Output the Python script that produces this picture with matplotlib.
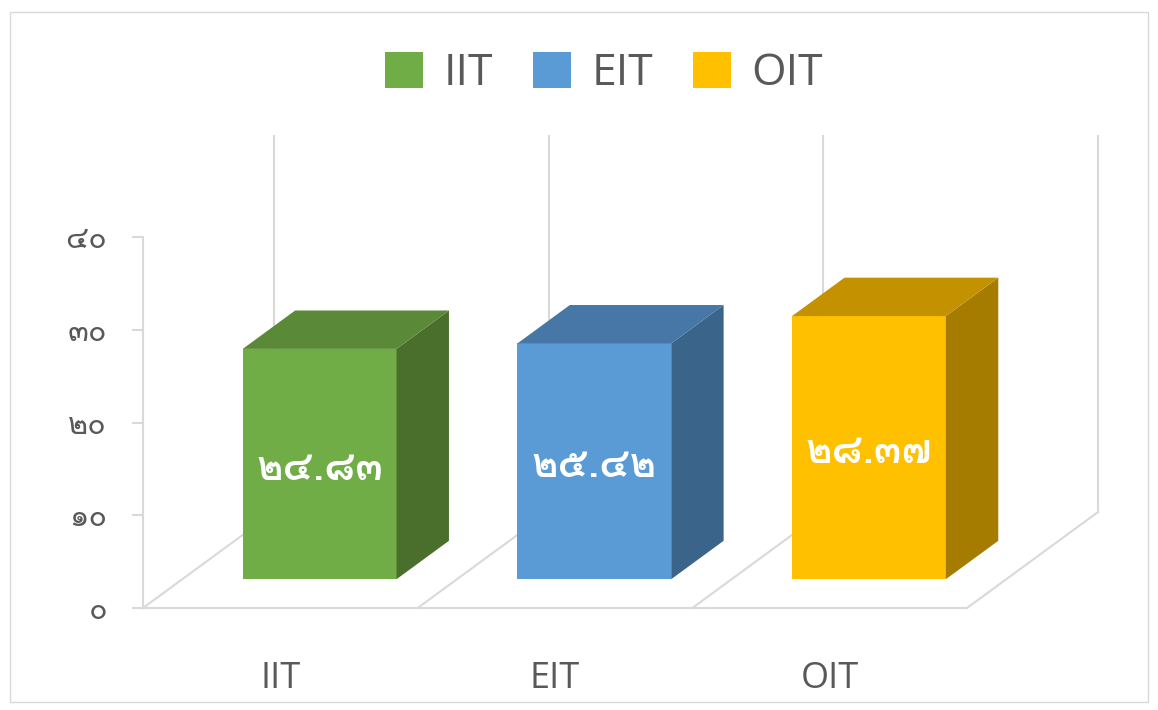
import matplotlib
matplotlib.use('Agg')
import matplotlib.pyplot as plt
from matplotlib import font_manager
from matplotlib.ft2font import FT2Font
from matplotlib.patches import Patch, Polygon, Rectangle

# data
categories = ['IIT', 'EIT', 'OIT']
values = [24.83, 25.42, 28.37]
yticks = [0, 10, 20, 30, 40]

front_colors = ['#70AD47', '#5B9BD5', '#FFC000']
top_colors = ['#5A8A38', '#4677A6', '#C49200']
side_colors = ['#4A6F2C', '#3A6489', '#A67C00']
grid_color = '#D9D9D9'
text_color = '#595959'


def find_thai_font():
    # first installed font that has thai digits
    for f in font_manager.fontManager.ttflist:
        try:
            if 0x0E52 in FT2Font(f.fname).get_charmap():
                return f.name
        except Exception:
            pass
    return 'DejaVu Sans'


def thai_digits(s):
    return s.translate(str.maketrans('0123456789', '๐๑๒๓๔๕๖๗๘๙'))


thai_font = find_thai_font()
plt.rcParams['font.family'] = ['Open Sans', thai_font, 'DejaVu Sans']

fig = plt.figure(figsize=(11.58, 7.10), dpi=100)
ax = fig.add_axes([143 / 1158, 102 / 710, 824 / 1158, 371 / 710])
ax.set_xlim(0, 3)
ax.set_ylim(0, 40)

# oblique depth of the floor (data units)
ddx, ddy = 0.477, 10.35
wall_top = ddy + 40.5

# floor and back wall lines
for i in range(4):
    ax.plot([i, i + ddx], [0, ddy], color=grid_color, lw=1.5, zorder=1, clip_on=False)
    ax.plot([i + ddx, i + ddx], [ddy, wall_top], color=grid_color, lw=1.5, zorder=1, clip_on=False)

# 3d bars
width = 0.56
d0, d1 = 0.3, 0.7
bdx, bdy = (d1 - d0) * ddx, (d1 - d0) * ddy
base = d0 * ddy
xs = [i + 0.5 + d0 * ddx for i in range(len(values))]
ax.bar(xs, values, width=width, bottom=base, color=front_colors, zorder=3, clip_on=False)
for x, v, tc, sc in zip(xs, values, top_colors, side_colors):
    xl, xr = x - width / 2, x + width / 2
    top = base + v
    ax.add_patch(Polygon([(xr, base), (xr + bdx, base + bdy), (xr + bdx, top + bdy), (xr, top)],
                         closed=True, facecolor=sc, edgecolor='none', zorder=3, clip_on=False))
    ax.add_patch(Polygon([(xl, top), (xl + bdx, top + bdy), (xr + bdx, top + bdy), (xr, top)],
                         closed=True, facecolor=tc, edgecolor='none', zorder=3, clip_on=False))
    ax.text(x, base + v / 2 - 0.6, thai_digits(f'{v:.2f}'), color='white', fontsize=29,
            fontweight='bold', ha='center', va='center', zorder=4, family=[thai_font, 'DejaVu Sans'])

# axes styling
for side in ['top', 'right']:
    ax.spines[side].set_visible(False)
for side in ['left', 'bottom']:
    ax.spines[side].set_color(grid_color)
    ax.spines[side].set_linewidth(1.5)
ax.set_yticks(yticks)
ax.set_yticklabels([thai_digits(str(t)) for t in yticks], family=[thai_font, 'DejaVu Sans'])
ax.tick_params(axis='y', length=8, width=1.5, color=grid_color, labelcolor=text_color,
               labelsize=22, pad=18)
ax.set_xticks([i + 0.5 for i in range(len(categories))])
ax.set_xticklabels(categories)
ax.tick_params(axis='x', length=0, labelcolor=text_color, labelsize=26, pad=38)

# legend
handles = [Patch(facecolor=c, edgecolor='none') for c in front_colors]
fig.legend(handles, categories, loc='center', bbox_to_anchor=(604 / 1158, 1 - 74 / 710), ncol=3,
           frameon=False, fontsize=32, labelcolor=text_color, handlelength=0.86, handleheight=0.86,
           handletextpad=0.45, columnspacing=0.9)

# chart border
fig.patches.append(Rectangle((10 / 1158, 8 / 710), 1138 / 1158, 690 / 710, transform=fig.transFigure,
                             fill=False, edgecolor=grid_color, lw=1.0))

fig.savefig('out.png', dpi=100)
